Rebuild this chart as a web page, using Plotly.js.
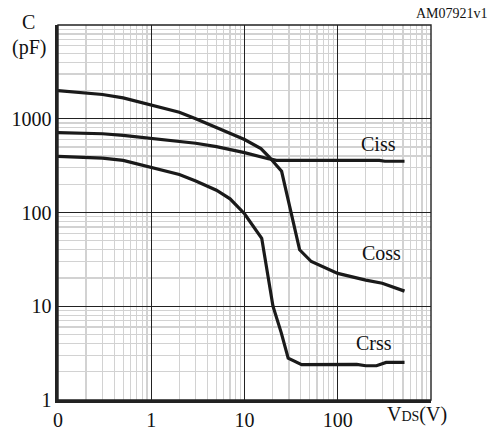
<!DOCTYPE html>
<html><head><meta charset="utf-8">
<script src="https://cdn.plot.ly/plotly-3.0.1.min.js"></script>
<style>html,body{margin:0;padding:0;background:#fff;}</style>
</head><body>
<div id="chart" style="width:497px;height:431px;"></div>
<script>
// V_DS (V)
const cossX = [0.1, 0.2, 0.3, 0.5, 1, 2, 3, 5, 7, 10, 15, 18, 25, 39, 52, 100, 200, 300, 520];
const cossY = [2000, 1870, 1815, 1670, 1415, 1175, 1000, 800, 695, 600, 480, 400, 275, 40, 30, 22.4, 19, 17.6, 14.5];
const cissX = [0.1, 0.3, 0.5, 1, 2, 3, 5, 7, 10, 18, 22, 100, 280, 320, 520];
const cissY = [710, 692, 664, 615, 578, 548, 505, 470, 435, 375, 360, 360, 360, 352, 352];
const crssX = [0.1, 0.2, 0.3, 0.5, 1, 2, 3, 5, 7, 8.9, 10, 15.3, 18, 20.2, 24.8, 29.4, 41, 100, 160, 200, 260, 330, 520];
const crssY = [397, 390, 380, 360, 305, 254, 217, 173, 140, 110, 97, 53, 19, 10, 5.2, 2.8, 2.38, 2.4, 2.4, 2.32, 2.32, 2.52, 2.52];
const xTickVals = [0.1, 1, 10, 100];
const xTickText = ['0', '1', '10', '100'];
const yTickVals = [1, 10, 100, 1000];
const yTickText = ['1', '10', '100', '1000'];

const lineStyle = {color: '#1a1a1a', width: 3.2, shape: 'linear'};
const traces = [
  {x: cossX, y: cossY, mode: 'lines', line: lineStyle, name: 'Coss', hoverinfo: 'skip'},
  {x: cissX, y: cissY, mode: 'lines', line: lineStyle, name: 'Ciss', hoverinfo: 'skip'},
  {x: crssX, y: crssY, mode: 'lines', line: lineStyle, name: 'Crss', hoverinfo: 'skip'}
];
const serif = "'Liberation Serif', 'Times New Roman', serif";
const font = {family: serif, size: 20, color: '#111'};
const axisCommon = {
  type: 'log', showline: true, linecolor: '#222', linewidth: 2.6, mirror: false,
  showgrid: true, gridcolor: '#222', gridwidth: 1.4, ticks: '', zeroline: false,
  tickfont: font, tickmode: 'array',
  minor: {dtick: 'D1', showgrid: true, gridcolor: '#d2d2d2', gridwidth: 1.2, ticks: ''}
};
function ann(text, x, y, extra) {
  return Object.assign({text: text, xref: 'paper', yref: 'paper', x: x, y: y,
    xanchor: 'center', yanchor: 'middle', showarrow: false, font: font}, extra || {});
}
const layout = {
  width: 497, height: 431,
  margin: {l: 58, r: 65.5, t: 24.7, b: 30.7},
  paper_bgcolor: '#fff', plot_bgcolor: '#fff',
  showlegend: false,
  font: font,
  xaxis: Object.assign({}, axisCommon, {range: [-1, 3], tickvals: xTickVals, ticktext: xTickText}),
  yaxis: Object.assign({}, axisCommon, {range: [0, 4], tickvals: yTickVals, ticktext: yTickText}),
  shapes: [
    {type: 'rect', xref: 'paper', yref: 'paper', x0: 0, x1: 1, y0: 0, y1: 1, line: {color: '#222', width: 1.4}, layer: 'above'}
  ],
  annotations: [
    ann('Ciss', 0.858, 0.684),
    ann('Coss', 0.866, 0.392),
    ann('Crss', 0.846, 0.152),
    ann('C', -0.078, 1.008),
    ann('(pF)', -0.079, 0.939),
    ann('AM07921v1', 1.157, 1.030, {xanchor: 'right', font: {family: serif, size: 14, color: '#111'}}),
    ann('V<span style="font-size:14px">DS</span>(V)', 0.9625, -0.039)
  ]
};
Plotly.newPlot('chart', traces, layout, {staticPlot: true, displayModeBar: false});
</script>
</body></html>
